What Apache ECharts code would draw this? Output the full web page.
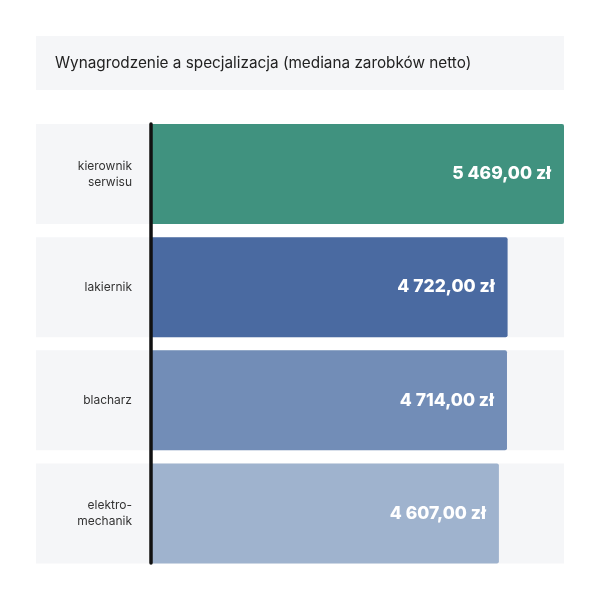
<!DOCTYPE html>
<html><head><meta charset="utf-8">
<script src="https://cdn.jsdelivr.net/npm/echarts@6/dist/echarts.min.js"></script>
<style>html,body{margin:0;padding:0;background:#fff}#c{width:600px;height:600px}</style>
</head><body><div id="c"></div>
<script>
const titleText = 'Wynagrodzenie a specjalizacja (mediana zarobków netto)';
const categories = ['kierownik\nserwisu', 'lakiernik', 'blacharz', 'elektro-\nmechanik'];
const values = [5469, 4722, 4714, 4607];
const barColors = ['#40927f', '#4a6aa1', '#728db7', '#9fb3ce'];

function fmt(v){
  const s = v.toFixed(2).split('.');
  return s[0].replace(/\B(?=(\d{3})+(?!\d))/g, '\u00a0') + ',' + s[1] + ' zł';
}

const chart = echarts.init(document.getElementById('c'), null, {renderer:'canvas'});
chart.setOption({
  backgroundColor:'#fff',
  animation:false,
  graphic:[{type:'rect', shape:{x:36,y:36,width:528,height:54}, style:{fill:'#f5f6f8'}, z:-1}],
  title:{text:titleText, left:55, top:54, padding:0,
    textStyle:{fontFamily:'Inter', fontSize:15.3, fontWeight:'normal', color:'#222', lineHeight:18}},
  grid:[
    {left:36, right:36, top:117.5, bottom:30, containLabel:false, outerBoundsMode:'none'},
    {left:36, right:36, top:124, bottom:37, containLabel:false, outerBoundsMode:'none'}
  ],
  xAxis:[
    {type:'value', min:-1523, max:5469, show:false, gridIndex:0},
    {type:'value', min:-1523, max:5469, show:false, gridIndex:1}
  ],
  yAxis:[
    {type:'category', data:categories, inverse:true, z:10, gridIndex:0,
      axisLine:{show:false},
      axisTick:{show:false},
      axisLabel:{margin:-96, fontFamily:'Inter', fontSize:12, color:'#333', lineHeight:16, align:'right'}},
    {type:'category', data:categories, inverse:true, z:10, gridIndex:1,
      axisLine:{show:true, onZero:true, lineStyle:{color:'#111', width:3.5}},
      axisTick:{show:false}, axisLabel:{show:false}}
  ],
  series:[{type:'bar', barWidth:100, xAxisIndex:0, yAxisIndex:0,
    data: values.map((v,i)=>({value:v, itemStyle:{color:barColors[i]}})),
    showBackground:true, backgroundStyle:{color:'#f5f6f8'},
    itemStyle:{borderRadius:[0,2,2,0]},
    label:{show:true, position:'insideRight', distance:13, formatter:p=>fmt(p.value),
      fontFamily:'Inter', fontWeight:800, fontSize:17.5, color:'#fff'}
  }]
});
</script></body></html>
